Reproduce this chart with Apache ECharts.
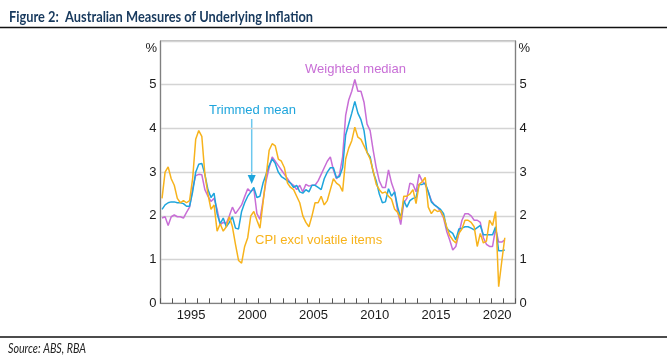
<!DOCTYPE html>
<html><head><meta charset="utf-8">
<script src="https://cdn.jsdelivr.net/npm/echarts@6/dist/echarts.min.js"></script>
<style>html,body{margin:0;padding:0;background:#fff}#c{width:667px;height:358px}</style>
</head><body><div id="c"></div>
<script>
// Quarterly year-ended inflation, first point = March quarter 1993
const firstYear = 1993;
const weightedMedian = [
 1.95,1.98,1.78,1.98,2.02,1.98,1.98,1.95,2.08,2.2,
 2.62,2.92,2.95,2.94,2.6,2.45,2.33,2.4,2.15,1.8,
 1.85,1.83,2.0,2.2,2.05,2.15,2.25,2.44,2.62,2.55,
 2.62,2.05,1.92,2.35,2.8,3.1,3.35,3.25,3.15,3.05,
 2.95,2.85,2.75,2.7,2.6,2.7,2.55,2.72,2.68,2.7,
 2.7,2.8,2.95,3.1,3.25,3.35,3.05,2.85,2.95,3.35,
 4.3,4.65,4.85,5.12,4.85,4.85,4.6,4.1,3.95,3.5,
 3.1,2.8,2.65,2.65,3.05,2.75,2.55,2.1,1.8,2.3,
 2.4,2.75,2.72,2.55,2.95,2.8,2.72,2.55,2.35,2.25,
 2.2,2.1,1.95,1.65,1.45,1.22,1.3,1.6,1.9,2.05,
 2.05,2.0,1.9,1.9,1.85,1.5,1.35,1.3,1.3,1.72,
 1.4,1.4,1.45
];
const trimmedMean = [
 2.15,2.25,2.3,2.32,2.32,2.3,2.3,2.28,2.22,2.22,
 2.55,3.0,3.18,3.2,2.95,2.6,2.42,2.52,2.05,1.82,
 1.95,1.75,1.85,1.98,1.72,1.7,2.1,2.3,2.45,2.55,
 2.65,2.42,2.45,2.75,2.95,3.15,3.3,3.2,3.0,2.9,
 2.85,2.8,2.75,2.65,2.7,2.55,2.52,2.6,2.55,2.7,
 2.7,2.65,2.6,2.85,3.0,3.1,3.1,2.87,2.9,3.1,
 3.85,4.1,4.35,4.62,4.35,4.2,3.95,3.45,3.35,3.0,
 2.8,2.5,2.3,2.32,2.62,2.45,2.55,2.2,1.95,2.35,
 2.2,2.35,2.4,2.42,2.72,2.72,2.75,2.55,2.32,2.25,
 2.2,2.15,2.05,1.72,1.65,1.6,1.45,1.7,1.72,1.75,
 1.75,1.72,1.68,1.73,1.78,1.57,1.57,1.57,1.57,1.75,
 1.2,1.2,1.22
];
const cpiExVolatile = [
 2.4,3.0,3.12,2.85,2.7,2.4,2.3,2.35,2.3,2.35,
 2.85,3.75,3.95,3.82,2.95,2.5,2.15,2.25,1.65,1.82,
 1.65,1.75,1.98,1.75,1.35,0.98,0.92,1.3,1.5,2.0,
 2.1,1.9,1.72,2.3,2.9,3.5,3.65,3.6,3.3,3.25,
 3.1,2.75,2.65,2.6,2.45,2.3,2.0,1.85,1.75,2.0,
 2.3,2.3,2.45,2.25,2.35,2.6,2.85,2.75,2.7,2.56,
 3.3,3.55,3.72,4.03,3.8,3.75,3.6,3.45,3.3,3.02,
 2.72,2.6,2.52,2.55,2.45,2.38,2.15,2.08,1.92,2.45,
 2.45,2.5,2.6,2.28,2.72,2.78,2.88,2.2,2.05,2.15,
 2.1,2.12,1.98,1.75,1.55,1.45,1.38,1.6,1.7,1.9,
 1.9,1.85,1.75,1.3,1.6,1.38,1.42,1.9,1.78,2.1,
 0.38,0.95,1.5
];
const yearLabels = [1995, 2000, 2005, 2010, 2015, 2020];
const seriesNames = ['Weighted median', 'Trimmed mean', 'CPI excl volatile items'];
const seriesColors = ['#c86ed6', '#1ea5dc', '#f7b31c'];

function toPoints(arr) { return arr.map((v, i) => [firstYear + (i + 0.5) / 4, v]); }

function textWidth(font, txt) {
  const ctx = document.createElement('canvas').getContext('2d');
  ctx.font = font;
  return ctx.measureText(txt).width;
}
const titleText = 'Figure 2:  Australian Measures of Underlying Inflation';
const titleFont = 'bold 15.5px Lato';
const titleScale = 304 / textWidth(titleFont, titleText);
const srcText = 'Source: ABS, RBA';
const srcFont = 'italic 13px Lato';
const srcScale = 78 / textWidth(srcFont, srcText);

const axisFont = 'Liberation Sans';
const chart = echarts.init(document.getElementById('c'), null, {renderer: 'canvas'});
const yAxisBase = {
  type: 'value', min: 0, max: 6, interval: 1,
  axisLine: {show: true, lineStyle: {color: '#808080', width: 1.2}},
  axisTick: {show: false},
  axisLabel: {formatter: v => v === 6 ? '' : String(v), color: '#1a1a1a', fontSize: 13, fontFamily: axisFont, margin: 4}
};
chart.setOption({
  animation: false,
  grid: {left: 160.5, right: 151.5, top: 41, bottom: 54.7, show: true, borderColor: '#808080', borderWidth: 1.2},
  xAxis: {
    type: 'value', min: 1993, max: 2022, interval: 1,
    axisLine: {show: true, lineStyle: {color: '#808080', width: 1.2}},
    axisTick: {show: true, inside: true, length: 5, lineStyle: {color: '#555'}},
    axisLabel: {customValues: yearLabels.map(y => y + 0.5), formatter: v => String(Math.floor(v)),
      color: '#1a1a1a', fontSize: 13, fontFamily: axisFont, margin: 6},
    splitLine: {show: false}
  },
  yAxis: [
    Object.assign({}, yAxisBase, {position: 'left', splitLine: {show: true, lineStyle: {color: '#d4d4d4', width: 1.3}}}),
    Object.assign({}, yAxisBase, {position: 'right', splitLine: {show: false}})
  ],
  series: [
    {name: seriesNames[0], type: 'line', data: toPoints(weightedMedian), showSymbol: false, lineStyle: {color: seriesColors[0], width: 1.5}, itemStyle: {color: seriesColors[0]}, z: 3},
    {name: seriesNames[1], type: 'line', data: toPoints(trimmedMean), showSymbol: false, lineStyle: {color: seriesColors[1], width: 1.5}, itemStyle: {color: seriesColors[1]}, z: 4},
    {name: seriesNames[2], type: 'line', data: toPoints(cpiExVolatile), showSymbol: false, lineStyle: {color: seriesColors[2], width: 1.5}, itemStyle: {color: seriesColors[2]}, z: 5}
  ],
  graphic: [
    {type: 'text', x: 9, y: 17, scaleX: titleScale, style: {text: titleText, font: titleFont, fill: '#183a5e', verticalAlign: 'middle'}},
    {type: 'line', shape: {x1: 0, y1: 27.5, x2: 667, y2: 27.5}, style: {stroke: '#111', lineWidth: 1.5}},
    {type: 'line', shape: {x1: 0, y1: 337, x2: 667, y2: 337}, style: {stroke: '#111', lineWidth: 1.5}},
    {type: 'text', x: 8, y: 348.5, scaleX: srcScale, style: {text: srcText, font: srcFont, fill: '#222', verticalAlign: 'middle'}},
    {type: 'text', x: 157, y: 48, style: {text: '%', font: '13px Liberation Sans', fill: '#1a1a1a', align: 'right', verticalAlign: 'middle'}},
    {type: 'text', x: 518.5, y: 48, style: {text: '%', font: '13px Liberation Sans', fill: '#1a1a1a', align: 'left', verticalAlign: 'middle'}},
    {type: 'text', x: 305, y: 69, style: {text: seriesNames[0], font: '13px Liberation Sans', fill: seriesColors[0], verticalAlign: 'middle'}},
    {type: 'text', x: 209, y: 110, style: {text: seriesNames[1], font: '13px Liberation Sans', fill: seriesColors[1], verticalAlign: 'middle'}},
    {type: 'text', x: 255, y: 240, style: {text: seriesNames[2], font: '13px Liberation Sans', fill: seriesColors[2], verticalAlign: 'middle'}},
    {type: 'line', shape: {x1: 251.7, y1: 119, x2: 251.7, y2: 176}, style: {stroke: '#6cc8ee', lineWidth: 1.5}},
    {type: 'polygon', shape: {points: [[247.7, 175], [255.7, 175], [251.7, 184]]}, style: {fill: '#1ea5dc'}}
  ]
});
</script>
</body></html>
